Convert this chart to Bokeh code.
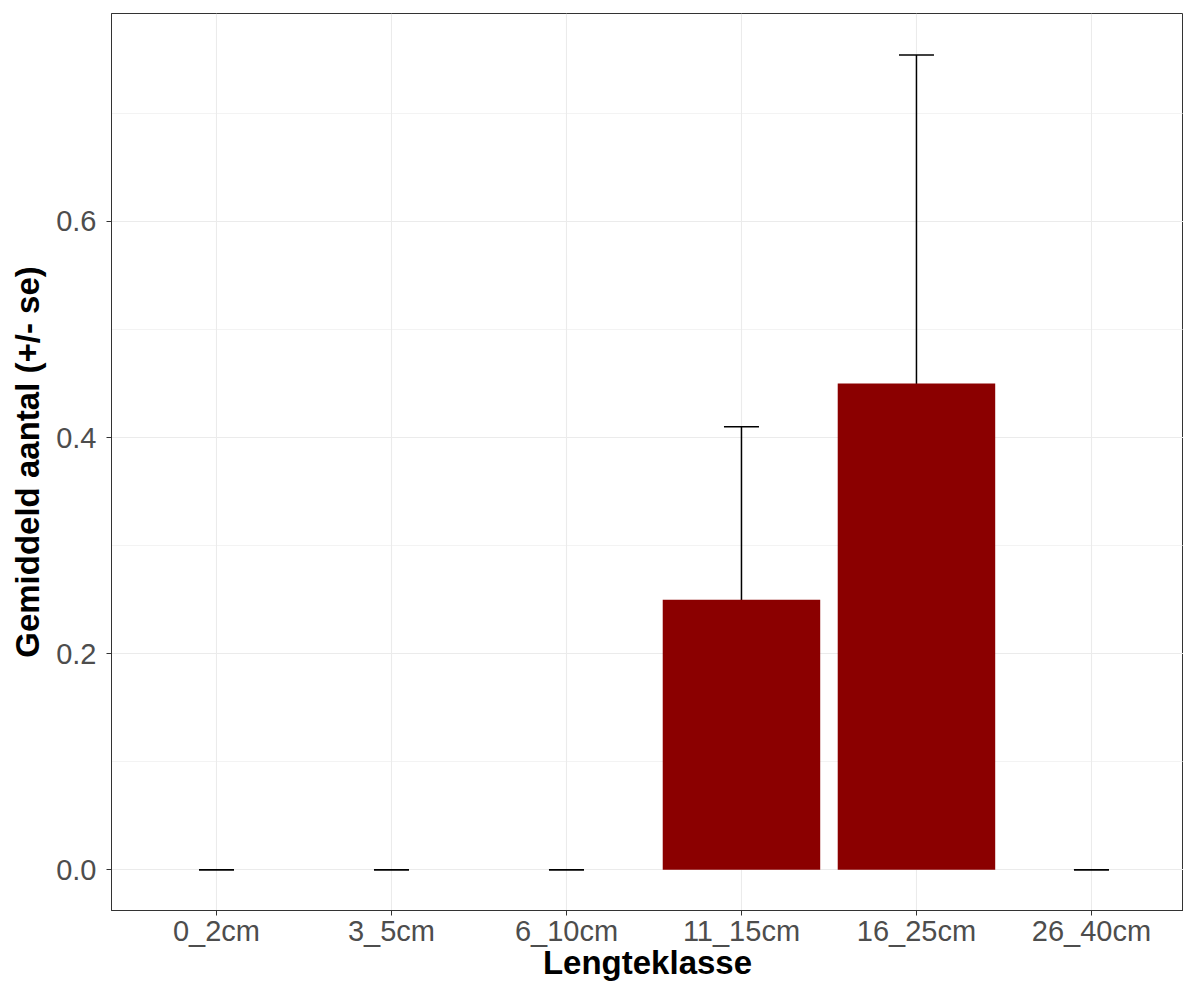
from bokeh.plotting import figure
from bokeh.models import Range1d, FixedTicker, Whisker, TeeHead, ColumnDataSource, CustomJSTickFormatter
from bokeh.embed import file_html
from bokeh.resources import INLINE

categories = ["0_2cm", "3_5cm", "6_10cm", "11_15cm", "16_25cm", "26_40cm"]
means = [0.0, 0.0, 0.0, 0.25, 0.45, 0.0]
se = [0.0, 0.0, 0.0, 0.16, 0.304, 0.0]
y_ticks = [0.0, 0.2, 0.4, 0.6]
y_minor = [0.1, 0.3, 0.5, 0.7]

xpos = [i + 1 for i in range(len(categories))]
lower = [m - s for m, s in zip(means, se)]
upper = [m + s for m, s in zip(means, se)]
src = ColumnDataSource(dict(x=xpos, top=means, lower=lower, upper=upper, cat=categories))

FONT = "Liberation Sans"

p = figure(width=1183, height=983, output_backend="svg", toolbar_location=None,
           x_range=Range1d(0.4, 6.526), y_range=Range1d(-0.0377, 0.7925),
           min_border_left=111, min_border_right=0, min_border_top=13, min_border_bottom=71)
p.background_fill_color = "white"
p.border_fill_color = "white"
p.outline_line_color = "#333333"
p.outline_line_width = 1

p.vbar(x="x", top="top", width=0.9, bottom=0, source=src,
       fill_color="#8B0000", line_color=None)

w = Whisker(base="x", lower="lower", upper="upper", source=src,
            line_color="black", line_width=1.5,
            upper_head=TeeHead(size=35, line_color="black", line_width=1.5),
            lower_head=TeeHead(size=35, line_color="black", line_width=1.5))
p.add_layout(w)

# axes
p.xaxis.ticker = FixedTicker(ticks=xpos)
p.xaxis.major_label_overrides = {x: c for x, c in zip(xpos, categories)}
p.yaxis.ticker = FixedTicker(ticks=y_ticks, minor_ticks=y_minor)
p.yaxis.formatter = CustomJSTickFormatter(code="return tick.toFixed(1);")

for ax in (p.xaxis[0], p.yaxis[0]):
    ax.axis_line_color = "#333333"
    ax.axis_line_width = 1
    ax.major_tick_line_color = "#333333"
    ax.major_tick_out = 5
    ax.major_tick_in = 0
    ax.minor_tick_line_color = None
    ax.major_label_text_font = FONT
    ax.major_label_text_font_size = "29px"
    ax.major_label_text_color = "#4D4D4D"
    ax.axis_label_text_font = FONT
    ax.axis_label_text_font_size = "33px"
    ax.axis_label_text_font_style = "bold"
    ax.axis_label_text_color = "black"

p.xaxis.major_label_standoff = -1
p.yaxis.major_label_standoff = 10

p.yaxis.axis_label = "Gemiddeld aantal (+/- se)"
p.yaxis.axis_label_standoff = 7
p.xaxis.axis_label = "Lengteklasse"
p.xaxis.axis_label_standoff = -6

# grid
p.xgrid.grid_line_color = "#EBEBEB"
p.xgrid.grid_line_width = 1.1
p.ygrid.grid_line_color = "#EBEBEB"
p.ygrid.grid_line_width = 1.1
p.ygrid.minor_grid_line_color = "#EBEBEB"
p.ygrid.minor_grid_line_width = 0.6

open("out.html", "w").write(file_html(p, INLINE))
